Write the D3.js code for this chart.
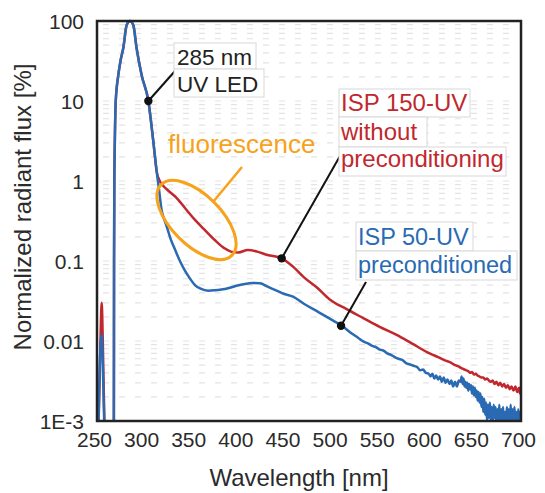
<!DOCTYPE html>
<html>
<head>
<meta charset="utf-8">
<script src="https://cdn.jsdelivr.net/npm/d3@7"></script>
<style>
  body { margin: 0; background: white; }
  text { font-family: "Liberation Sans", Arial, sans-serif; }
</style>
</head>
<body>
<div id="grafica"></div>
<script>
// ISP 150-UV without preconditioning [wavelength nm, normalized flux %]
let isp150 = [[250,0.0003],[251.5,0.0008],[253,0.004],[254,0.015],[255,0.03],[256,0.012],[257,0.003],[258.5,0.0006],
  [262,0.0003],[267.5,0.0003],[267.9,0.001],[268.1,0.1],[268.4,1],[268.9,3],[269.9,10],[272.6,21],[275,32],[277.9,46],
  [281.5,89],[285,100],[288.5,89],[292,46],[297.4,21],[304.5,10],[309.8,3.1],[313.4,1.3],[317,0.98],[320,0.88],
  [326,0.75],[333,0.64],[344,0.45],[354,0.326],[365,0.24],[375,0.183],[385,0.145],[393,0.13],[400,0.128],[410,0.137],
  [420,0.131],[431,0.119],[446,0.108],[458,0.085],[470,0.062],[484,0.046],[497,0.033],[515,0.025],[533,0.0192],
  [550,0.015],[568,0.0119],[585,0.0092],[603,0.0070],[612,0.0063],[620,0.0057],[625,0.0054],[630,0.0050],[634,0.0048],
  [638,0.0045],[640,0.0044],[642,0.0043],[644,0.0042],[646,0.0040],[648,0.0041],[650,0.0038],[652,0.0039],[654,0.0037],
  [656,0.0036],[658,0.0035],[660,0.0035],[662,0.0033],[664,0.0034],[666,0.0032],[668,0.0031],[670,0.0032],[672,0.0029],
  [674,0.0031],[676,0.0028],[678,0.0030],[680,0.0027],[682,0.0029],[684,0.0026],[686,0.0028],[688,0.0025],[690,0.0027],
  [692,0.0024],[694,0.0027],[696,0.0023],[698,0.0026],[699,0.0022],[700,0.0024]];

// ISP 50-UV preconditioned
let isp50 = [[250,0.0003],[251.5,0.0009],[253,0.005],[254,0.010],[255,0.012],[256,0.006],[257,0.002],[258.5,0.0005],
  [262,0.0003],[267.5,0.0003],[267.9,0.001],[268.1,0.1],[268.4,1],[268.9,3],[269.9,10],[272.6,21],[275,32],[277.9,46],
  [281.5,89],[285,100],[288.5,89],[292,46],[297.4,21],[304.5,10],[309.8,3.1],[313.4,1.3],[316,0.75],[318.6,0.43],
  [321,0.34],[324,0.27],[328,0.19],[333,0.137],[338,0.1],[343,0.077],[348,0.062],[354,0.05],[360,0.045],[368,0.0425],
  [375,0.043],[382,0.044],[389,0.0456],[398,0.049],[407,0.0516],[415,0.053],[423,0.0526],[431,0.0478],[440,0.043],
  [448,0.039],[458,0.0358],[470,0.029],[485,0.023],[497,0.019],[510,0.0155],[520,0.0125],[527,0.0110],[533,0.0098],
  [538,0.0093],[542,0.0087],[546,0.0084],[550,0.0078],[554,0.0076],[558,0.0070],[562,0.0067],[566,0.0063],[570,0.0060],
  [574,0.0058],[578,0.0053],[582,0.0051],[586,0.0049],[590,0.0047],[593,0.0043],[596,0.0044],[599,0.0040],[602,0.0039],
  [604,0.0036],[606,0.0039],[608,0.0034],[610,0.0037],[612,0.0033],[614,0.0036],[616,0.0031],[618,0.0035],[620,0.0030],
  [622,0.0033],[624,0.0029],[626,0.0032],[628,0.0027],[630,0.0031],[632,0.0027],[634,0.0032],[636,0.0031],[637,0.0036],
  [638,0.0029],[639,0.0034],[640,0.0027],[641,0.0031],[642,0.0026],[643,0.0030],[644,0.0024],[645,0.0029],[646,0.0025],
  [647,0.0028],[648,0.0022],[649,0.0027],[650,0.0021],[651,0.0026],[652,0.0020],[653,0.0024],[654,0.0018],[655,0.0023],
  [656,0.0017],[657,0.0022],[658,0.0015],[659,0.0020],[660,0.0013],[661,0.0019],[662,0.0012],[663,0.0017],[664,0.0010],
  [665,0.0016],[666,0.0011],[667,0.0017],[668,0.0010],[669,0.0015],[670,0.0009],[671,0.0016],[672,0.0011],[673,0.0015],
  [674,0.0009],[675,0.0014],[676,0.0010],[677,0.0016],[678,0.0009],[679,0.0014],[680,0.0010],[681,0.0015],[682,0.0008],
  [683,0.0013],[684,0.0009],[685,0.0015],[686,0.0010],[687,0.0014],[688,0.0009],[689,0.0016],[690,0.0010],[691,0.0014],
  [692,0.0009],[693,0.0015],[694,0.0010],[695,0.0013],[696,0.0008],[697,0.0014],[698,0.0010],[699,0.0013],[700,0.0011]];

let xticks = [250,300,350,400,450,500,550,600,650,700];
let yticks = [0.001,0.01,0.1,1,10,100];
let ylabels = ["1E-3","0.01","0.1","1","10","100"];

let ancho = 545, alto = 493;
let margen = {"top":21,"bottom":72,"left":97,"right":24};
let w = ancho - margen.left - margen.right;
let h = alto - margen.top - margen.bottom;

let rojo = "#c1282e", azul = "#2a6ab3", naranja = "#f7a21b";

let xscale = d3.scaleLinear().domain([250,700]).range([0,w]);
let yscale = d3.scaleLog().domain([0.001,100]).range([h,0]);

let svg = d3.select("#grafica").append("svg")
    .attr("width",ancho)
    .attr("height",alto);

let g = svg.append("g")
    .attr("transform","translate(" + margen.left + "," + margen.top + ")");

g.append("clipPath").attr("id","recorte")
    .append("rect").attr("y",-3).attr("width",w).attr("height",h + 3);

// minor dashed grid
let menores = [];
yticks.slice(0,5).forEach(d => { for (let k = 1; k < 10; k++) menores.push(d*k); });
g.selectAll(".rejilla")
    .data(menores.slice(1))
    .enter()
    .append("line")
    .attr("class","rejilla")
    .attr("x1",6).attr("x2",w - 4)
    .attr("y1",d => yscale(d)).attr("y2",d => yscale(d))
    .style("stroke","#e4e4e4")
    .style("stroke-width",1.2)
    .style("stroke-dasharray","6 10");

let linea = d3.line()
    .x(d => xscale(d[0]))
    .y(d => yscale(d[1]))
    .curve(d3.curveMonotoneX);

let curvas = g.append("g").attr("clip-path","url(#recorte)");
curvas.append("path").datum(isp150)
    .attr("d",linea)
    .style("fill","none").style("stroke",rojo).style("stroke-width",2.5);
curvas.append("path").datum(isp50)
    .attr("d",linea)
    .style("fill","none").style("stroke",azul).style("stroke-width",2.5);

g.append("rect")
    .attr("width",w).attr("height",h)
    .style("fill","none").style("stroke","#222").style("stroke-width",2.5);

// tick labels
g.selectAll(".xlab")
    .data(xticks)
    .enter()
    .append("text")
    .attr("class","xlab")
    .attr("x",d => xscale(d) - 2.5)
    .attr("y",h + 26)
    .text(d => d)
    .style("text-anchor","middle")
    .style("font-size","21px")
    .style("fill","#2b2b2b");

g.selectAll(".ylab")
    .data(yticks)
    .enter()
    .append("text")
    .attr("class","ylab")
    .attr("x",-13)
    .attr("y",d => yscale(d))
    .attr("dy","0.36em")
    .text((d,i) => ylabels[i])
    .style("text-anchor","end")
    .style("font-size","21px")
    .style("fill","#2b2b2b");

svg.append("text")
    .attr("x",299).attr("y",486)
    .text("Wavelength [nm]")
    .style("text-anchor","middle")
    .style("font-size","24px")
    .style("fill","#2b2b2b");

svg.append("text")
    .attr("transform","translate(31,207) rotate(-90)")
    .text("Normalized radiant flux [%]")
    .style("text-anchor","middle")
    .style("font-size","24px")
    .style("fill","#2b2b2b");

// annotations: boxes with one line each
function etiqueta(lineas, color, size) {
    lineas.forEach(l => {
        svg.append("rect")
            .attr("x",l.x0).attr("y",l.y0)
            .attr("width",l.x1 - l.x0).attr("height",l.y1 - l.y0)
            .style("fill","white").style("stroke","#d8d8d8").style("stroke-width",1);
        svg.append("text")
            .attr("x",l.tx).attr("y",l.ty)
            .text(l.texto)
            .style("font-size",size + "px")
            .style("fill",color);
    });
}

function flecha(x0, y0, punto) {
    let px = margen.left + xscale(punto[0]);
    let py = margen.top + yscale(punto[1]);
    svg.append("line")
        .attr("x1",x0).attr("y1",y0).attr("x2",px).attr("y2",py)
        .style("stroke","#111").style("stroke-width",2);
    svg.append("circle")
        .attr("cx",px).attr("cy",py).attr("r",4.2)
        .style("fill","#111");
}

flecha(175,71,[304.5,10]);
etiqueta([{"texto":"285 nm","tx":177,"ty":64.5,"x0":174,"y0":43,"x1":256,"y1":69},
          {"texto":"UV LED","tx":177,"ty":92,"x0":174,"y0":69,"x1":264,"y1":97}],"#222",22.5);

flecha(340,156,[446,0.108]);
etiqueta([{"texto":"ISP 150-UV","tx":341,"ty":111,"x0":339,"y0":89,"x1":470,"y1":117},
          {"texto":"without","tx":341,"ty":140,"x0":339,"y0":117,"x1":427,"y1":147},
          {"texto":"preconditioning","tx":341,"ty":167,"x0":339,"y0":147,"x1":506,"y1":176}],rojo,24);

flecha(366,282,[509,0.0155]);
etiqueta([{"texto":"ISP 50-UV","tx":358,"ty":245,"x0":356,"y0":222,"x1":473,"y1":251},
          {"texto":"preconditioned","tx":358,"ty":273,"x0":356,"y0":251,"x1":517,"y1":280}],azul,23.5);

// fluorescence callout
svg.append("ellipse")
    .attr("transform","translate(196.5,220) rotate(45)")
    .attr("rx",50).attr("ry",25)
    .style("fill","none").style("stroke",naranja).style("stroke-width",3);
svg.append("line")
    .attr("x1",213).attr("y1",202).attr("x2",242).attr("y2",167)
    .style("stroke",naranja).style("stroke-width",2.5);
svg.append("text")
    .attr("x",168).attr("y",153)
    .text("fluorescence")
    .style("font-size","26px")
    .style("fill",naranja);
</script>
</body>
</html>
